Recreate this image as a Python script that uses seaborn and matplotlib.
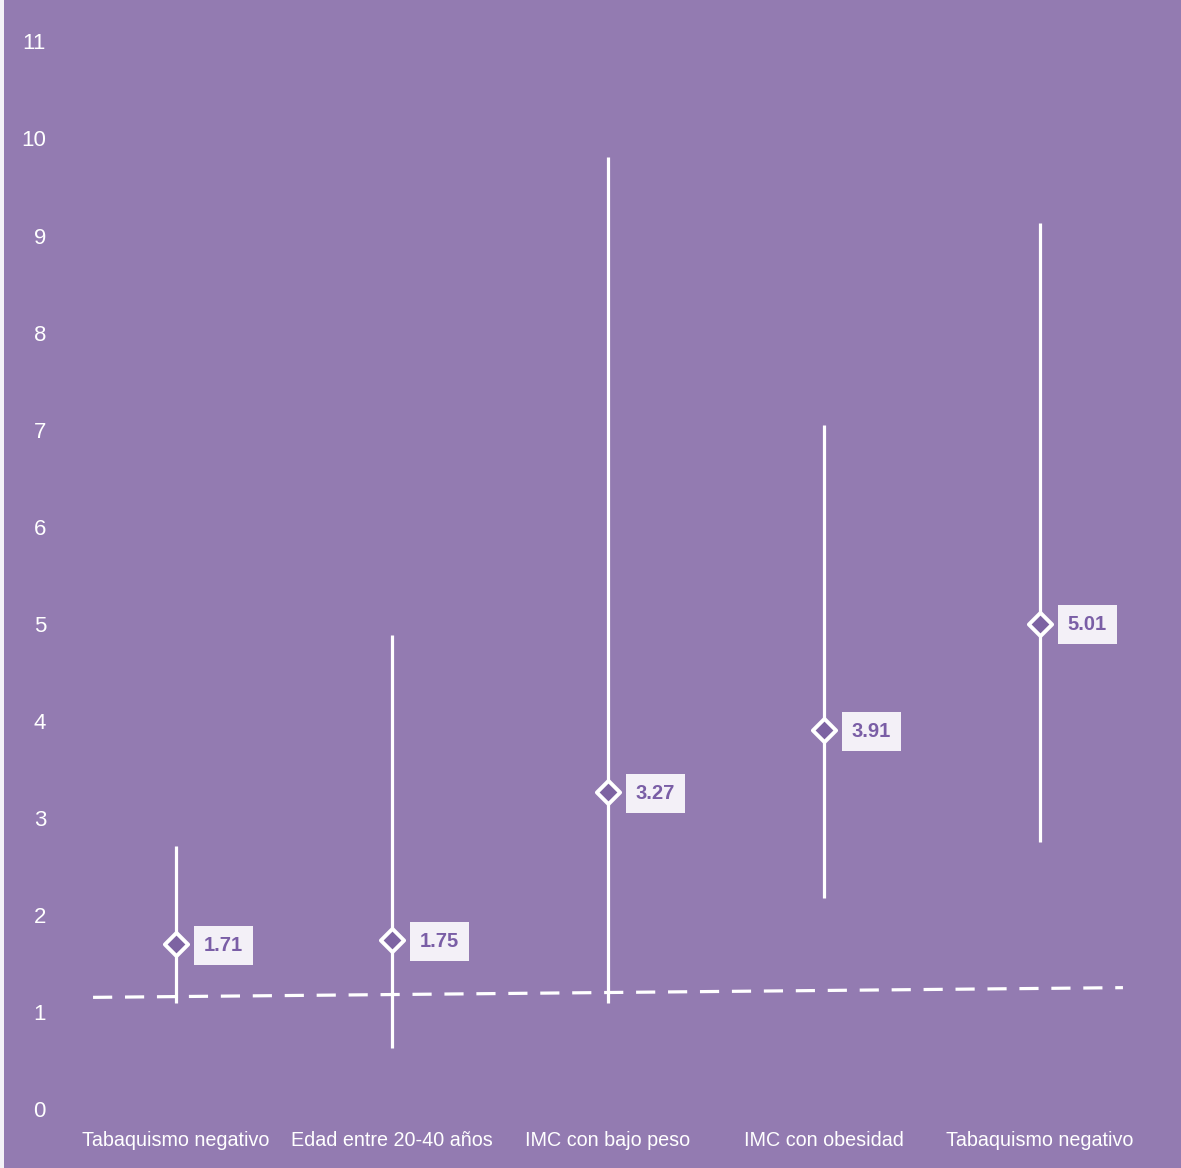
import numpy as np
import pandas as pd
import matplotlib
matplotlib.use("Agg")
import matplotlib.pyplot as plt
import matplotlib.transforms as mtransforms
import seaborn as sns

# data
categories = ["Tabaquismo negativo", "Edad entre 20-40 años", "IMC con bajo peso",
              "IMC con obesidad", "Tabaquismo negativo"]
estimate = [1.71, 1.75, 3.27, 3.91, 5.01]
lower = [1.10, 0.64, 1.10, 2.18, 2.76]
upper = [2.72, 4.89, 9.81, 7.05, 9.13]
ref_start = 1.16
ref_end = 1.26
y_ticks = list(range(0, 12))

bg = "#937bb1"
label_col = "#7a5ea6"
box_col = "#f3f0f7"
fill_col = "#7d63a2"

sns.set_theme(style="white")
plt.rcParams["font.family"] = ["Liberation Sans", "DejaVu Sans"]

df = pd.DataFrame({"pos": np.arange(len(categories)), "cat": categories,
                   "est": estimate, "lo": lower, "hi": upper})

fig = plt.figure(figsize=(11.81, 11.68), dpi=100, facecolor="#f4f2f7")
ax = fig.add_axes([4 / 1181, 0, 1 - 4 / 1181, 1])
ax.set_facecolor(bg)
for s in ax.spines.values():
    s.set_visible(False)

# reference (dashed) line
ref = pd.DataFrame({"x": [-0.384, len(categories) - 1 + 0.384], "y": [ref_start, ref_end]})
sns.lineplot(data=ref, x="x", y="y", ax=ax, color="white", lw=2.3,
             linestyle=(0, (6, 4)), zorder=2)

# intervals
ax.vlines(df["pos"], df["lo"], df["hi"], color="white", lw=2.3, zorder=3)

# point estimates
sns.scatterplot(data=df, x="pos", y="est", ax=ax, marker="D", s=140,
                color=fill_col, edgecolor="white", linewidth=2.8, zorder=4)

for p, v in zip(df["pos"], df["est"]):
    ax.annotate(f"{v:.2f}", (p, v), xytext=(20, -1), textcoords="offset points",
                ha="left", va="center", fontsize=14.5, fontweight="bold", color=label_col,
                bbox=dict(boxstyle="square,pad=0.5", fc=box_col, ec="none"), zorder=5)

ax.set_xlim(-172 / 216, len(categories) - 1 + 141 / 216)
ax.set_ylim(-58 / 97.1, 1110 / 97.1)
ax.set_xticks([])
ax.set_yticks([])
ax.set_xlabel("")
ax.set_ylabel("")
if ax.get_legend():
    ax.get_legend().remove()

trans_y = mtransforms.blended_transform_factory(ax.transAxes, ax.transData)
for t in y_ticks:
    ax.text(42 / 1177, t - 0.02, str(t), transform=trans_y, ha="right", va="center",
            fontsize=16, color="white")

for p, c in zip(df["pos"], df["cat"]):
    ax.text(p, -0.31, c, ha="center", va="center", fontsize=14.2, color="white")

fig.savefig("out.png", dpi=100, facecolor=fig.get_facecolor())
